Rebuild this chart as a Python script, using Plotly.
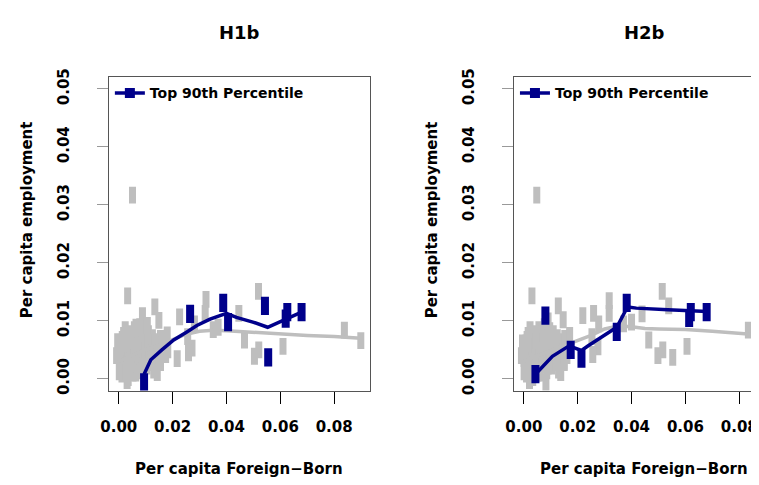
import plotly.graph_objects as go

# ---------------- data: H1b panel ----------------
h1b_x = [0.0010, 0.0015, 0.0020, 0.0022, 0.0025, 0.0028, 0.0030, 0.0032, 0.0035, 0.0038,
         0.0040, 0.0042, 0.0045, 0.0048, 0.0050, 0.0052, 0.0055, 0.0058, 0.0060, 0.0062,
         0.0065, 0.0068, 0.0070, 0.0072, 0.0075, 0.0078, 0.0080, 0.0083, 0.0085, 0.0088,
         0.0090, 0.0093, 0.0095, 0.0098, 0.0100, 0.0103, 0.0105, 0.0108, 0.0110, 0.0113,
         0.0115, 0.0118, 0.0120, 0.0125, 0.0128, 0.0130, 0.0135, 0.0140, 0.0145, 0.0150,
         0.0155, 0.0160, 0.0012, 0.0035, 0.0058, 0.0078, 0.0018, 0.0063, 0.0003, 0.0007,
         0.0001, 0.0005, 0.0016, 0.0026, 0.0044, 0.0053, 0.0067, 0.0086, 0.0097, 0.0041,
         0.0024, 0.0073, 0.0107, 0.0122, -0.0008, 0.0002, 0.0013, 0.0046, 0.0091, 0.0060,
         0.0033, 0.0134, 0.0088, 0.0149, 0.0226, 0.0324, 0.0321, 0.0281, 0.0446, 0.0519,
         0.0351, 0.0369, 0.0467, 0.0520, 0.0504, 0.0610, 0.0838, 0.0899, 0.0272, 0.0259,
         0.0217, 0.0182, 0.0256, 0.0143, 0.0031, 0.0051, -0.0004, 0.0064, 0.0106, 0.0180,
         0.0174, 0.0155]
h1b_y = [0.0062, 0.0045, 0.0030, 0.0052, 0.0070, 0.0038, 0.0020, 0.0058, 0.0046, 0.0033,
         0.0064, 0.0012, 0.0050, 0.0040, 0.0027, 0.0072, 0.0055, 0.0036, 0.0018, 0.0047,
         0.0062, 0.0030, 0.0080, 0.0042, 0.0052, 0.0024, 0.0066, 0.0037, 0.0058, 0.0045,
         0.0074, 0.0030, 0.0060, 0.0050, 0.0040, 0.0068, 0.0022, 0.0055, 0.0078, 0.0034,
         0.0046, 0.0062, 0.0028, 0.0071, 0.0052, 0.0015, 0.0040, 0.0064, 0.0048, 0.0030,
         0.0070, 0.0058, 0.0008, 0.0002, 0.0085, 0.0090, 0.0075, 0.0010, 0.0035, 0.0055,
         0.0048, 0.0020, 0.0060, 0.0015, 0.0078, 0.0010, 0.0045, 0.0014, 0.0083, 0.0025,
         0.0085, 0.0057, 0.0063, 0.0045, 0.0040, 0.0012, 0.0068, 0.0066, 0.0022, 0.0050,
         0.0143, 0.0124, 0.0109, 0.0101, 0.0107, 0.0137, 0.0113, 0.0095, 0.0113, 0.0151,
         0.0085, 0.0089, 0.0067, 0.0050, 0.0039, 0.0056, 0.0084, 0.0066, 0.0053, 0.0045,
         0.0035, 0.0050, 0.0073, 0.0011, -0.0003, 0.0317, 0.0064, 0.0089, 0.0092, 0.0076,
         0.0042, 0.0028]
h1b_top_x = [0.0094, 0.0265, 0.0388, 0.0406, 0.0543, 0.0555, 0.0620, 0.0626, 0.0679]
h1b_top_y = [-0.0006, 0.0112, 0.0131, 0.0098, 0.0126, 0.0037, 0.0104, 0.0115, 0.0115]
h1b_fit_all_x = [-0.0004, 0.003, 0.006, 0.009, 0.012, 0.016, 0.020, 0.025, 0.030, 0.035,
                 0.040, 0.050, 0.060, 0.070, 0.080, 0.0899]
h1b_fit_all_y = [0.0030, 0.0036, 0.0043, 0.0049, 0.0054, 0.0060, 0.0068, 0.0077, 0.0082, 0.0084,
                 0.0083, 0.0080, 0.0077, 0.0075, 0.0073, 0.0070]
h1b_fit_top_x = [0.0094, 0.0119, 0.0160, 0.0204, 0.0253, 0.0290, 0.0339, 0.0400, 0.0437,
                 0.0498, 0.0553, 0.0608, 0.0679]
h1b_fit_top_y = [0.0008, 0.0033, 0.0050, 0.0067, 0.0081, 0.0092, 0.0103, 0.0113, 0.0106,
                 0.0098, 0.0089, 0.0101, 0.0115]

# ---------------- data: H2b panel ----------------
h2b_x = [0.0008, 0.0013, 0.0018, 0.0021, 0.0024, 0.0027, 0.0029, 0.0031, 0.0034, 0.0037,
         0.0039, 0.0041, 0.0044, 0.0047, 0.0049, 0.0051, 0.0054, 0.0057, 0.0059, 0.0061,
         0.0064, 0.0067, 0.0069, 0.0071, 0.0074, 0.0077, 0.0079, 0.0082, 0.0084, 0.0087,
         0.0089, 0.0092, 0.0094, 0.0097, 0.0099, 0.0102, 0.0104, 0.0107, 0.0109, 0.0112,
         0.0114, 0.0117, 0.0119, 0.0124, 0.0127, 0.0129, 0.0134, 0.0139, 0.0144, 0.0149,
         0.0152, 0.0156, 0.0010, 0.0033, 0.0056, 0.0076, 0.0016, 0.0061, 0.0001, 0.0005,
         0.0000, 0.0004, 0.0015, 0.0025, 0.0043, 0.0052, 0.0066, 0.0085, 0.0096, 0.0040,
         0.0023, 0.0072, 0.0106, 0.0121, -0.0009, 0.0001, 0.0012, 0.0045, 0.0090, 0.0059,
         0.0030, 0.0128, 0.0146, 0.0219, 0.0259, 0.0317, 0.0317, 0.0278, 0.0514, 0.0538,
         0.0439, 0.0400, 0.0370, 0.0464, 0.0516, 0.0498, 0.0553, 0.0606, 0.0834, 0.0275,
         0.0256, 0.0253, 0.0021, 0.0082, 0.0137, 0.0048, 0.0905, -0.0005, 0.0090, 0.0170,
         0.0160, 0.0150]
h2b_y = [0.0062, 0.0045, 0.0030, 0.0052, 0.0070, 0.0038, 0.0020, 0.0058, 0.0046, 0.0033,
         0.0064, 0.0012, 0.0050, 0.0040, 0.0027, 0.0072, 0.0055, 0.0036, 0.0018, 0.0047,
         0.0062, 0.0030, 0.0080, 0.0042, 0.0052, 0.0024, 0.0066, 0.0037, 0.0058, 0.0045,
         0.0074, 0.0030, 0.0060, 0.0050, 0.0040, 0.0068, 0.0022, 0.0055, 0.0078, 0.0034,
         0.0046, 0.0062, 0.0028, 0.0071, 0.0052, 0.0015, 0.0040, 0.0064, 0.0048, 0.0030,
         0.0070, 0.0058, 0.0008, 0.0002, 0.0085, 0.0090, 0.0075, 0.0010, 0.0035, 0.0055,
         0.0048, 0.0020, 0.0060, 0.0015, 0.0078, 0.0010, 0.0045, 0.0014, 0.0083, 0.0025,
         0.0085, 0.0057, 0.0063, 0.0045, 0.0040, 0.0012, 0.0068, 0.0066, 0.0022, 0.0050,
         0.0143, 0.0126, 0.0102, 0.0109, 0.0113, 0.0135, 0.0113, 0.0095, 0.0151, 0.0126,
         0.0112, 0.0098, 0.0095, 0.0067, 0.0050, 0.0040, 0.0037, 0.0056, 0.0084, 0.0055,
         0.0042, 0.0073, -0.0003, -0.0006, 0.0011, 0.0317, 0.0066, 0.0062, 0.0100, 0.0075,
         0.0040, 0.0028]
h2b_top_x = [0.0043, 0.0080, 0.0174, 0.0214, 0.0345, 0.0382, 0.0614, 0.0620, 0.0679]
h2b_top_y = [0.0008, 0.0109, 0.0050, 0.0035, 0.0081, 0.0131, 0.0105, 0.0115, 0.0115]
h2b_fit_all_x = [-0.0005, 0.003, 0.006, 0.009, 0.012, 0.016, 0.020, 0.025, 0.030, 0.035,
                 0.040, 0.045, 0.050, 0.060, 0.070, 0.080, 0.0905]
h2b_fit_all_y = [0.0030, 0.0036, 0.0042, 0.0047, 0.0052, 0.0058, 0.0065, 0.0075, 0.0086, 0.0091,
                 0.0090, 0.0087, 0.0086, 0.0085, 0.0082, 0.0079, 0.0075]
h2b_fit_top_x = [0.0043, 0.0106, 0.0168, 0.0214, 0.0239, 0.0345, 0.0385, 0.0418, 0.0535,
                 0.0620, 0.0681]
h2b_fit_top_y = [0.0008, 0.0039, 0.0057, 0.0049, 0.0057, 0.0089, 0.0124, 0.0122, 0.0119,
                 0.0117, 0.0116]

x_ticks = [0.00, 0.02, 0.04, 0.06, 0.08]
y_ticks = [0.00, 0.01, 0.02, 0.03, 0.04, 0.05]
titles = ["H1b", "H2b"]
x_label = "Per capita Foreign\u2212Born"
y_label = "Per capita employment"
legend_label = "Top 90th Percentile"

# ---------------- style ----------------
GRAY = "#BEBEBE"
BLUE = "#00008B"
FONT = "DejaVu Sans"
W, H = 759, 485          # reference picture size
OFF = 8                  # page body margin offsets the figure
FW, FH = W - OFF, H - OFF


def fx(px):
    return (px - OFF) / FW


def fy(py):
    return 1 - (py - OFF) / FH


fig = go.Figure()

panels = [
    (h1b_x, h1b_y, h1b_top_x, h1b_top_y, h1b_fit_all_x, h1b_fit_all_y,
     h1b_fit_top_x, h1b_fit_top_y, "x", "y", "legend"),
    (h2b_x, h2b_y, h2b_top_x, h2b_top_y, h2b_fit_all_x, h2b_fit_all_y,
     h2b_fit_top_x, h2b_fit_top_y, "x2", "y2", "legend2"),
]
for (gx, gy, tx, ty, fax, fay, ftx, fty, xa, ya, lg) in panels:
    fig.add_trace(go.Scatter(x=gx, y=gy, mode="markers", xaxis=xa, yaxis=ya,
                             marker=dict(symbol="line-ns", size=12, color=GRAY,
                                         line=dict(color=GRAY, width=7)),
                             showlegend=False, hoverinfo="skip"))
    fig.add_trace(go.Scatter(x=fax, y=fay, mode="lines", xaxis=xa, yaxis=ya,
                             line=dict(color=GRAY, width=3.5), showlegend=False))
    fig.add_trace(go.Scatter(x=tx, y=ty, mode="markers", xaxis=xa, yaxis=ya,
                             marker=dict(symbol="line-ns", size=13, color=BLUE,
                                         line=dict(color=BLUE, width=8)),
                             showlegend=False))
    fig.add_trace(go.Scatter(x=ftx, y=fty, mode="lines", xaxis=xa, yaxis=ya,
                             line=dict(color=BLUE, width=3.5), showlegend=False))
    fig.add_trace(go.Scatter(x=[None], y=[None], mode="lines+markers", xaxis=xa, yaxis=ya,
                             name=legend_label, legend=lg,
                             line=dict(color=BLUE, width=3.5),
                             marker=dict(symbol="square", size=10, color=BLUE)))

# plot boxes in reference pixels
L1, R1 = 101, 365
L2 = 511
TOP, BOT = 70, 392
X0PIX = 10
PX_PER_UNIT = 2725.0
PY_PER_UNIT = 5960.0
xmin = -X0PIX / PX_PER_UNIT
xmax1 = xmin + (R1 - L1) / PX_PER_UNIT
xmax2 = xmin + (W - L2) / PX_PER_UNIT
ymin = -(BOT - 380) / PY_PER_UNIT
ymax = 0.05 + (82 - TOP) / PY_PER_UNIT

tickfont = dict(family=FONT, size=15, color="#000", weight="bold")
ydom = [fy(BOT), fy(TOP)]
xcommon = dict(tickvals=x_ticks, tickformat=".2f", ticks="outside",
               ticklen=12, tickcolor="#000", tickwidth=1, showgrid=False, zeroline=False,
               showline=True, linecolor="#555", linewidth=1, mirror=True,
               tickfont=tickfont, ticklabelstandoff=10)
ycommon = dict(range=[ymin, ymax], tickvals=y_ticks, tickformat=".2f", ticks="outside",
               ticklen=11, tickcolor="#999", tickwidth=1, showgrid=False, zeroline=False,
               showline=True, linecolor="#555", linewidth=1, tickangle=-90,
               tickfont=tickfont, ticklabelstandoff=22, domain=ydom)

legfont = dict(family=FONT, size=14, color="#000", weight="bold")
fig.update_layout(
    width=FW, height=FH,
    margin=dict(l=0, r=0, t=0, b=0),
    paper_bgcolor="white", plot_bgcolor="white",
    xaxis={**xcommon, "range": [xmin, xmax1], "domain": [fx(L1), fx(R1)], "anchor": "y"},
    yaxis={**ycommon, "anchor": "x", "mirror": True},
    xaxis2={**xcommon, "range": [xmin, xmax2], "domain": [fx(L2), 1.0], "anchor": "y2"},
    yaxis2={**ycommon, "anchor": "x2", "mirror": False},
    legend=dict(x=fx(L1 + 1), y=fy(70), xanchor="left", yanchor="top",
                bgcolor="rgba(0,0,0,0)", font=legfont),
    legend2=dict(x=fx(L2 + 1), y=fy(70), xanchor="left", yanchor="top",
                 bgcolor="rgba(0,0,0,0)", font=legfont),
    showlegend=True,
)

centers = [(L1 + R1) / 2, L2 + (R1 - L1) / 2]
ylab_x = [18, 428]
annotations = []
for i, c in enumerate(centers):
    annotations.append(dict(text="<b>%s</b>" % titles[i], x=fx(c), y=fy(24),
                            xref="paper", yref="paper", showarrow=False,
                            xanchor="center", yanchor="middle",
                            font=dict(family=FONT, size=18, color="#000")))
    annotations.append(dict(text="<b>%s</b>" % x_label, x=fx(c), y=fy(473),
                            xref="paper", yref="paper", showarrow=False,
                            xanchor="center", yanchor="middle",
                            font=dict(family=FONT, size=15, color="#000")))
    annotations.append(dict(text="<b>%s</b>" % y_label, x=fx(ylab_x[i]), y=fy(216),
                            xref="paper", yref="paper", showarrow=False, textangle=-90,
                            xanchor="center", yanchor="middle",
                            font=dict(family=FONT, size=15, color="#000")))
fig.update_layout(annotations=annotations)

fig.write_html("out.html")
